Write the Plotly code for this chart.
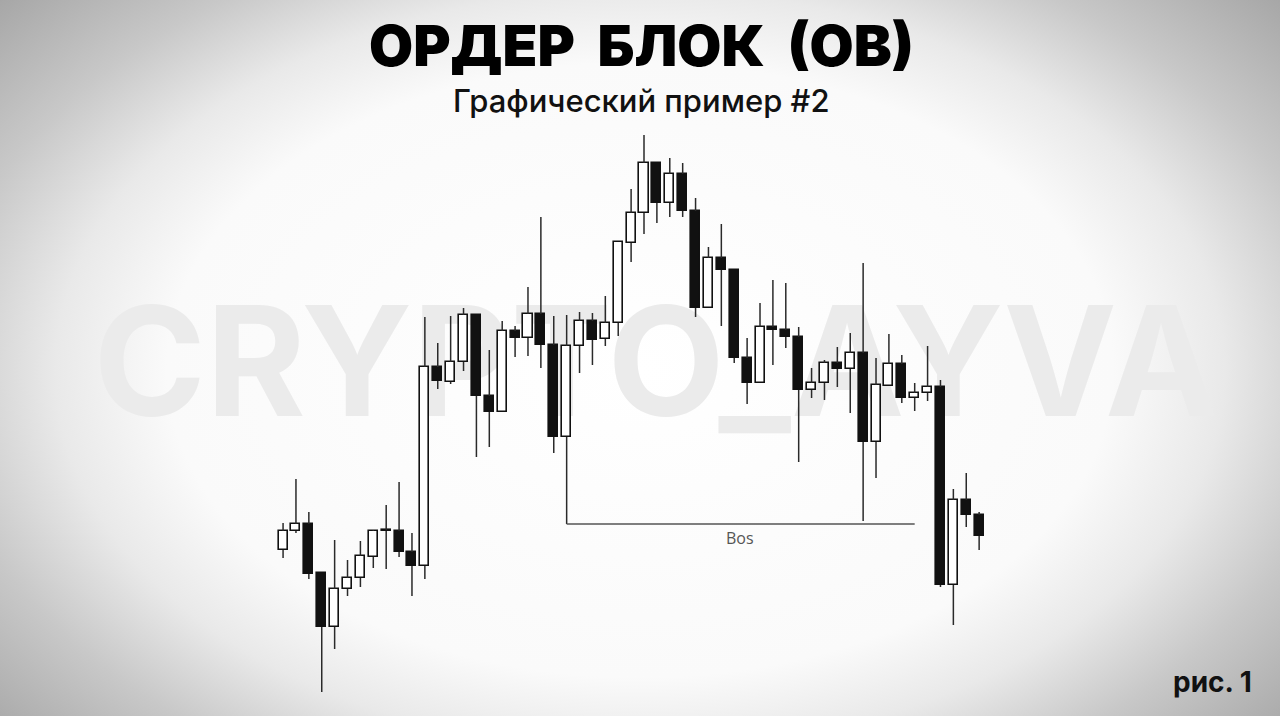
import base64
import plotly.graph_objects as go

# candle data (price units, index = candle number)
opens = [150, 169, 176, 127, 73, 111, 122, 143, 169, 169, 148, 134, 333, 318, 338,
         385, 304, 288, 369, 362, 386, 355, 263, 354, 379, 361, 377, 457, 487, 537,
         497, 526, 489, 392, 442, 430, 342, 317, 373, 370, 363, 310, 317, 337, 331,
         347, 258, 314, 336, 302, 307, 313, 115, 200, 185]
highs = [177, 221, 188, 127, 160, 140, 159, 170, 195, 218, 167, 383, 357, 384, 392,
         385, 350, 379, 374, 413, 483, 384, 385, 388, 387, 404, 458, 511, 565, 537,
         542, 537, 502, 453, 476, 430, 362, 397, 420, 417, 373, 332, 340, 353, 367,
         437, 342, 366, 345, 317, 354, 320, 211, 227, 188]
lows = [142, 167, 121, 8, 51, 104, 113, 132, 131, 143, 104, 121, 311, 316, 329,
        243, 253, 288, 343, 344, 332, 247, 176, 327, 335, 354, 364, 438, 466, 477,
        483, 483, 383, 392, 374, 337, 296, 317, 335, 352, 238, 302, 300, 313, 287,
        179, 222, 314, 297, 289, 299, 113, 75, 173, 150]
closes = [169, 176, 126, 73, 111, 122, 144, 169, 170, 148, 134, 333, 319, 338, 385,
          304, 288, 369, 362, 386, 355, 263, 354, 379, 360, 377, 458, 487, 537, 497,
          526, 489, 392, 442, 430, 342, 317, 373, 370, 363, 310, 317, 337, 331, 347,
          258, 315, 336, 302, 307, 313, 115, 200, 185, 164]

bos_level = 176
bos_start = 22
bos_end = 49

idx = list(range(len(opens)))

# wicks: upper and lower pieces so they never cross the bodies
wx, wy = [], []
for i, o, h, l, c in zip(idx, opens, highs, lows, closes):
    top, bot = max(o, c), min(o, c)
    if h > top:
        wx += [i, i, None]
        wy += [top, h, None]
    if l < bot:
        wx += [i, i, None]
        wy += [bot, l, None]

body_base = [min(o, c) for o, c in zip(opens, closes)]
body_size = [abs(c - o) for o, c in zip(opens, closes)]
body_color = ["#ffffff" if c >= o else "#111111" for o, c in zip(opens, closes)]

fig = go.Figure()

fig.add_trace(
    go.Scatter(
        x=wx,
        y=wy,
        mode="lines",
        line=dict(color="#2a2a2a", width=1.5),
        hoverinfo="skip",
        showlegend=False,
    )
)
fig.add_trace(
    go.Bar(
        x=idx,
        y=body_size,
        base=body_base,
        width=0.7,
        marker=dict(color=body_color, line=dict(color="#111111", width=1.6)),
        hoverinfo="skip",
        showlegend=False,
    )
)
# BOS line
fig.add_trace(
    go.Scatter(
        x=[bos_start, bos_end],
        y=[bos_level, bos_level],
        mode="lines",
        line=dict(color="#555555", width=1.3),
        hoverinfo="skip",
        showlegend=False,
    )
)

# watermark: label of an invisible shape so it sits under the candles
fig.add_shape(
    type="rect",
    xref="paper", yref="paper",
    x0=0.025, x1=1.0, y0=1 - 414 / 716, y1=1 - 298 / 716,
    line=dict(width=0),
    fillcolor="rgba(0,0,0,0)",
    layer="below",
    label=dict(
        text="CRYPTO_AYVA",
        textposition="middle center",
        font=dict(family="Inter", size=152, color="#ebebeb", weight=700),
        padding=0,
    ),
)

# vignette background
svg = """<svg xmlns="http://www.w3.org/2000/svg" width="1280" height="716" viewBox="0 0 1280 716" preserveAspectRatio="none">
<defs><radialGradient id="g" gradientUnits="userSpaceOnUse" cx="640" cy="370" r="860"
 gradientTransform="translate(640 370) scale(1 0.65) translate(-640 -370)">
<stop offset="0" stop-color="#ffffff"/>
<stop offset="0.55" stop-color="#fafafa"/>
<stop offset="0.68" stop-color="#e9e9e9"/>
<stop offset="0.82" stop-color="#c8c8c8"/>
<stop offset="1" stop-color="#a6a6a6"/>
</radialGradient></defs>
<rect width="1280" height="716" fill="url(#g)"/></svg>"""
bg = "data:image/svg+xml;base64," + base64.b64encode(svg.encode()).decode()

fig.update_layout(
    width=1280,
    height=716,
    margin=dict(l=0, r=0, t=0, b=0),
    paper_bgcolor="#ffffff",
    plot_bgcolor="rgba(0,0,0,0)",
    bargap=0,
    xaxis=dict(range=[-21.96, 77.34], visible=False, fixedrange=True),
    yaxis=dict(range=[-16, 700], visible=False, fixedrange=True),
    images=[
        dict(
            source=bg,
            xref="paper",
            yref="paper",
            x=0,
            y=1,
            sizex=1,
            sizey=1,
            sizing="stretch",
            xanchor="left",
            yanchor="top",
            layer="below",
        )
    ],
    annotations=[
        dict(
            text="ОРДЕР\u00a0\u00a0БЛОК\u00a0\u00a0(ОВ)",
            xref="paper", yref="paper", x=641 / 1280, y=1 - 45 / 716,
            xanchor="center", yanchor="middle",
            showarrow=False,
            font=dict(family="Inter", size=57, color="#000000", weight=900),
        ),
        dict(
            text="Графический пример #2",
            xref="paper", yref="paper", x=641 / 1280, y=1 - 100 / 716,
            xanchor="center", yanchor="middle",
            showarrow=False,
            font=dict(family="Inter", size=31, color="#111111", weight=500),
        ),
        dict(
            text="рис. 1",
            xref="paper", yref="paper", x=1212 / 1280, y=1 - 682 / 716,
            xanchor="center", yanchor="middle",
            showarrow=False,
            font=dict(family="Inter", size=28, color="#111111", weight=700),
        ),
        dict(
            text="Bos",
            x=35.45, y=162,
            xanchor="center", yanchor="middle",
            showarrow=False,
            font=dict(family="Open Sans", size=16, color="#555555"),
        ),
    ],
)

fig.write_html(
    "out.html",
    config={"displayModeBar": False},
    post_script="document.body.style.margin='0';document.body.style.overflow='hidden';",
)
